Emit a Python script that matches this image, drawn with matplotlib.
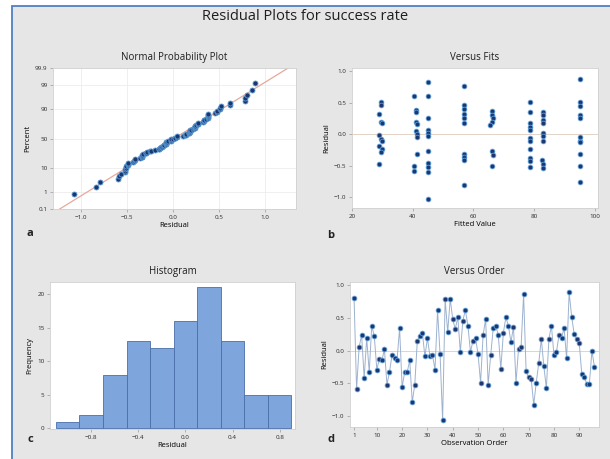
import statistics
import numpy as np
import matplotlib.pyplot as plt
from matplotlib.patches import Rectangle

plt.rcParams['font.family'] = ['Open Sans', 'DejaVu Sans']

# residuals in observation order
residuals = [0.81, -0.59, 0.05, 0.24, -0.42, 0.19, -0.33, 0.38, 0.22, -0.29,
             -0.13, -0.15, 0.02, -0.52, -0.33, -0.07, -0.11, -0.14, 0.34, -0.56,
             -0.33, -0.33, -0.15, -0.79, -0.52, 0.15, 0.23, 0.27, -0.09, 0.19,
             -0.09, -0.07, -0.29, 0.62, -0.06, -1.07, 0.79, 0.28, 0.79, 0.48,
             0.33, 0.51, -0.02, 0.46, 0.62, 0.38, -0.02, 0.15, 0.19, -0.05,
             -0.49, 0.24, 0.48, -0.52, -0.07, 0.34, 0.38, 0.24, -0.28, 0.27,
             0.51, 0.38, 0.13, 0.36, -0.49, 0.03, 0.05, 0.86, -0.32, -0.41,
             -0.43, -0.83, -0.49, -0.19, 0.18, -0.24, -0.58, 0.18, 0.38, -0.07,
             -0.02, 0.24, 0.20, 0.34, -0.12, 0.89, 0.52, 0.25, 0.18, 0.11,
             -0.36, -0.41, -0.51, -0.51, 0.00, -0.25]

# Versus Fits panel, read column by column
fit_values = [29.5, 29.5, 29.0, 29.5, 30.0, 29.0, 29.5, 30.0, 29.0, 30.0, 29.5, 29.0,
              40.5, 41.0, 41.0, 41.0, 41.5, 41.0, 41.5, 41.5, 41.5, 40.5, 40.5,
              45.0, 45.0, 45.0, 45.0, 45.0, 45.0, 45.0, 45.0, 45.0, 45.0, 45.0,
              57.0, 57.0, 57.0, 57.0, 57.0, 57.0, 57.0, 57.0, 57.0, 57.0,
              66.0, 66.0, 66.5, 66.0, 65.5, 66.0, 66.5, 66.0,
              78.5, 78.5, 78.5, 78.5, 78.5, 78.5, 78.5, 78.5, 78.5, 78.5, 78.5,
              83.0, 83.0, 83.0, 83.0, 83.0, 83.0, 83.0, 82.5, 83.0, 83.0,
              95.0, 95.0, 95.0, 95.0, 95.0, 95.0, 95.0, 95.0, 95.0, 95.0, 95.0]
fit_resid = [0.51, 0.46, 0.32, 0.20, 0.17, -0.02, -0.07, -0.11, -0.18, -0.23, -0.28, -0.47,
             0.60, 0.38, 0.36, 0.20, 0.16, 0.05, 0.00, -0.05, -0.31, -0.51, -0.58,
             0.83, 0.60, 0.25, 0.06, 0.02, -0.03, -0.27, -0.46, -0.52, -0.60, -1.02,
             0.76, 0.47, 0.40, 0.32, 0.25, 0.17, -0.31, -0.36, -0.41, -0.80,
             0.37, 0.30, 0.25, 0.20, 0.15, -0.26, -0.33, -0.51,
             0.51, 0.35, 0.17, 0.12, 0.07, -0.06, -0.11, -0.23, -0.37, -0.43, -0.52,
             0.35, 0.30, 0.22, 0.17, 0.02, -0.03, -0.11, -0.41, -0.48, -0.53,
             0.88, 0.51, 0.45, 0.30, 0.26, -0.05, -0.10, -0.13, -0.32, -0.51, -0.76]

hist_edges = [-1.1, -0.9, -0.7, -0.5, -0.3, -0.1, 0.1, 0.3, 0.5, 0.7, 0.9]
pct_ticks = [0.1, 1, 10, 50, 90, 99, 99.9]
pct_labels = ['0.1', '1', '10', '50', '90', '99', '99.9']

dot = '#1c3770'
halo = '#5b9bd5'
tick_fs = 4.5
lab_fs = 5.5
title_fs = 7

W, H = 610, 459
fig = plt.figure(figsize=(W / 100, H / 100), dpi=100, facecolor='white')

# gray panel with blue left/top border
fig.add_artist(Rectangle((12.5 / W, -0.1), 1.2, (H - 6) / H + 0.1,
                         transform=fig.transFigure, facecolor='#e6e6e6',
                         edgecolor='#4f7fc4', linewidth=1.3, zorder=-5))


def box(x0, y0, x1, y1):
    return [x0 / W, (H - y1) / H, (x1 - x0) / W, (y1 - y0) / H]


def style(ax):
    ax.set_facecolor('white')
    for s in ax.spines.values():
        s.set_color('#d0d0d0')
        s.set_linewidth(0.6)
    ax.tick_params(labelsize=tick_fs, length=2, width=0.5, color='#999999',
                   pad=2, labelcolor='#2a2a2a')


fig.text(0.5, 1 - 17 / H, 'Residual Plots for success rate', ha='center',
         va='center', fontsize=10.5, color='#1e1e1e')

# a: normal probability plot
ax1 = fig.add_axes(box(53, 68, 296, 209))
style(ax1)
n = len(residuals)
srt = np.sort(residuals)
zq = [statistics.NormalDist().inv_cdf((i + 1 - 0.3) / (n + 0.4)) for i in range(n)]
mu = np.mean(residuals)
sd = np.std(residuals, ddof=1)
xl = np.array([-1.3, 1.34])
ax1.plot(xl, (xl - mu) / sd, color='#e6a99a', lw=0.9, zorder=2)
ax1.plot(srt, zq, 'o', ms=3.6, mfc=dot, mec=halo, mew=0.6, zorder=3)
zt = [statistics.NormalDist().inv_cdf(p / 100) for p in pct_ticks]
ax1.set_yticks(zt)
ax1.set_yticklabels(pct_labels)
ax1.set_xticks([-1.0, -0.5, 0.0, 0.5, 1.0])
ax1.set_xlim(-1.3, 1.34)
ax1.set_ylim(zt[0], zt[-1])
ax1.grid(color='#ececec', lw=0.6)
ax1.set_axisbelow(True)
ax1.set_title('Normal Probability Plot', fontsize=title_fs, pad=6, color='#1e1e1e')
ax1.set_xlabel('Residual', fontsize=lab_fs, labelpad=2)
ax1.set_ylabel('Percent', fontsize=lab_fs, labelpad=3)

# b: versus fits
ax2 = fig.add_axes(box(352, 68, 598, 208))
style(ax2)
ax2.axhline(0, color='#e3d3c6', lw=0.7, zorder=1)
ax2.plot(fit_values, fit_resid, 'o', ms=3.4, mfc=dot, mec=halo, mew=0.6, zorder=3)
ax2.set_xlim(20, 101)
ax2.set_ylim(-1.17, 1.05)
ax2.set_xticks([20, 40, 60, 80, 100])
ax2.set_yticks([-1.0, -0.5, 0.0, 0.5, 1.0])
ax2.set_title('Versus Fits', fontsize=title_fs, pad=6, color='#1e1e1e')
ax2.set_xlabel('Fitted Value', fontsize=lab_fs, labelpad=2)
ax2.set_ylabel('Residual', fontsize=lab_fs, labelpad=3)

# c: histogram
ax3 = fig.add_axes(box(50, 282, 295, 429))
style(ax3)
ax3.hist(residuals, bins=hist_edges, color='#7fa6dc', edgecolor='#4a6ea8',
         linewidth=0.6)
ax3.set_xlim(-1.15, 0.93)
ax3.set_ylim(-0.1, 21.8)
ax3.set_xticks([-0.8, -0.4, 0.0, 0.4, 0.8])
ax3.set_yticks([0, 5, 10, 15, 20])
ax3.set_title('Histogram', fontsize=title_fs, pad=6, color='#1e1e1e')
ax3.set_xlabel('Residual', fontsize=lab_fs, labelpad=2)
ax3.set_ylabel('Frequency', fontsize=lab_fs, labelpad=3)

# d: versus order
ax4 = fig.add_axes(box(350, 282, 599, 427))
style(ax4)
order = np.arange(1, n + 1)
ax4.axhline(0, color='#e3d3c6', lw=0.7, zorder=1)
ax4.plot(order, residuals, '-', color='#9db2cf', lw=0.7, zorder=2)
ax4.plot(order, residuals, 'o', ms=3.4, mfc=dot, mec=halo, mew=0.6, zorder=3)
ax4.set_xlim(-0.6, 97.8)
ax4.set_ylim(-1.17, 1.05)
ax4.set_xticks([1, 10, 20, 30, 40, 50, 60, 70, 80, 90])
ax4.set_yticks([-1.0, -0.5, 0.0, 0.5, 1.0])
ax4.set_title('Versus Order', fontsize=title_fs, pad=6, color='#1e1e1e')
ax4.set_xlabel('Observation Order', fontsize=lab_fs, labelpad=2)
ax4.set_ylabel('Residual', fontsize=lab_fs, labelpad=3)

for lbl, px, py in [('a', 30, 234), ('b', 331, 235), ('c', 30, 439), ('d', 331, 440)]:
    fig.text(px / W, 1 - py / H, lbl, fontsize=8, fontweight='bold',
             ha='center', va='center', color='#222222')

fig.savefig('out.png', dpi=100, facecolor=fig.get_facecolor())
